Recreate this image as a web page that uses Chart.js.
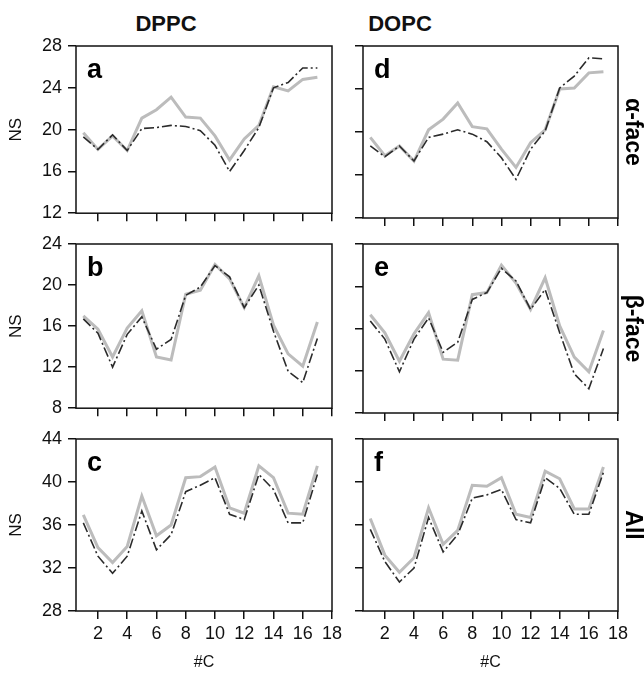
<!DOCTYPE html>
<html><head><meta charset="utf-8">
<script src="https://cdn.jsdelivr.net/npm/chart.js@4.4.1/dist/chart.umd.min.js"></script>
<style>
html,body{margin:0;padding:0;background:#fff;}
#wrap{position:relative;width:644px;height:675px;overflow:hidden;font-family:'Liberation Sans',Arial,sans-serif;background:#fff;}
canvas{position:absolute;}
.hdr{position:absolute;font-weight:bold;font-size:22px;transform:translate(-50%,-50%);color:#111;white-space:nowrap;}
</style></head><body>
<div id="wrap">
<div class="hdr" style="left:166px;top:24px">DPPC</div>
<div class="hdr" style="left:400px;top:24px">DOPC</div>
</div>
<script>
// ---- data ----
const carbons = [1,2,3,4,5,6,7,8,9,10,11,12,13,14,15,16,17];
const xTicks = [2,4,6,8,10,12,14,16,18];
const yTicksAlpha = [12,16,20,24,28];
const yTicksBeta = [8,12,16,20,24];
const yTicksAll = [28,32,36,40,44];
const rowLabels = ['α-face','β-face','All'];
const colLabels = ['DPPC','DOPC'];
const panelLetters = ['a','b','c','d','e','f'];

const dppcAlphaGray = [19.7,18.1,19.4,18.0,21.1,21.9,23.1,21.2,21.1,19.4,17.1,19.1,20.4,24.1,23.7,24.8,25.0];
const dppcAlphaDark = [19.3,18.1,19.5,18.0,20.1,20.2,20.4,20.3,19.9,18.5,16.0,18.0,20.2,24.0,24.5,25.9,25.9];
const dppcBetaGray  = [17.0,15.7,13.0,15.8,17.5,13.0,12.7,19.1,19.5,22.0,20.6,17.8,20.9,16.1,13.3,12.1,16.4];
const dppcBetaDark  = [16.7,15.3,12.0,15.2,16.9,13.75,14.7,19.0,19.8,21.9,20.8,17.8,20.0,15.5,11.6,10.5,14.8];
const dppcAllGray   = [36.95,33.9,32.5,34.0,38.7,35.0,36.0,40.4,40.5,41.4,37.6,37.1,41.5,40.4,37.1,37.0,41.5];
const dppcAllDark   = [36.2,33.1,31.5,33.1,37.3,33.7,35.1,39.1,39.7,40.4,37.0,36.5,40.7,39.3,36.2,36.2,40.7];

const dopcAlphaGray = [19.5,17.8,18.7,17.3,20.2,21.2,22.7,20.5,20.3,18.4,16.7,19.0,20.2,24.0,24.1,25.5,25.6];
const dopcAlphaDark = [18.7,17.7,18.7,17.3,19.5,19.8,20.2,19.8,19.1,17.6,15.6,18.4,20.1,24.1,25.2,26.9,26.8];
const dopcBetaGray  = [17.3,15.6,12.9,15.5,17.5,13.1,13.0,19.2,19.4,22.0,20.3,17.8,20.8,16.25,13.3,11.9,15.8];
const dopcBetaDark  = [16.7,15.0,11.9,15.0,17.0,13.75,14.7,18.75,19.4,21.7,20.5,17.8,19.7,15.6,11.7,10.3,14.1];
const dopcAllGray   = [36.6,33.2,31.6,32.95,37.6,34.2,35.5,39.7,39.6,40.4,37.0,36.7,41.0,40.3,37.5,37.5,41.4];
const dopcAllDark   = [35.6,32.6,30.7,32.0,36.7,33.5,35.1,38.5,38.8,39.3,36.5,36.2,40.4,39.4,37.0,37.0,40.9];

// ---- layout ----
const FONT = "'Liberation Sans', Arial, sans-serif";
Chart.defaults.font.family = FONT;
Chart.defaults.color = '#111';
const rowsGeo = [{top:46,bottom:218,xh:12},{top:244,bottom:413,xh:12},{top:439,bottom:611,xh:61}];
const colsGeo = [{left:0,width:350,yw:76,padR:18},{left:340,width:304,yw:23,padR:0}];

const framePlugin = {
  id:'frame',
  afterDraw(chart, args, opts){
    const {ctx, chartArea:a} = chart;
    ctx.save();
    ctx.strokeStyle = '#111'; ctx.lineWidth = 1.5;
    ctx.strokeRect(a.left, a.top, a.right-a.left, a.bottom-a.top);
    ctx.font = 'bold 27px ' + FONT; ctx.fillStyle = '#000'; ctx.textBaseline='alphabetic';
    ctx.fillText(opts.letter, a.left+11, a.top+32);
    ctx.restore();
  }
};

const panels = [
  {col:0,row:0,gray:dppcAlphaGray,dark:dppcAlphaDark,yt:yTicksAlpha},
  {col:0,row:1,gray:dppcBetaGray,dark:dppcBetaDark,yt:yTicksBeta},
  {col:0,row:2,gray:dppcAllGray,dark:dppcAllDark,yt:yTicksAll},
  {col:1,row:0,gray:dopcAlphaGray,dark:dopcAlphaDark,yt:yTicksAlpha},
  {col:1,row:1,gray:dopcBetaGray,dark:dopcBetaDark,yt:yTicksBeta},
  {col:1,row:2,gray:dopcAllGray,dark:dopcAllDark,yt:yTicksAll},
];

const wrap = document.getElementById('wrap');
panels.forEach((p, i) => {
  const r = rowsGeo[p.row], c = colsGeo[p.col];
  const padTop = 20;
  const h = padTop + (r.bottom - r.top) + r.xh;
  const cv = document.createElement('canvas');
  cv.width = c.width; cv.height = h;
  cv.style.left = c.left + 'px'; cv.style.top = (r.top - padTop) + 'px';
  cv.style.width = c.width + 'px'; cv.style.height = h + 'px';
  wrap.appendChild(cv);
  const bottomRow = p.row === 2;
  const leftCol = p.col === 0;
  const tickGrid = {display:true, drawOnChartArea:false, drawTicks:true, tickLength:8, color:'#111', lineWidth:1.5};
  const scales = {
    x: {
      type:'linear', min:0.5, max:18,
      afterBuildTicks: s => { s.ticks = xTicks.map(v => ({value:v})); },
      afterFit: s => { s.height = r.xh; },
      grid: tickGrid, border:{display:false},
      ticks:{display:bottomRow, font:{size:18}, padding:4, maxRotation:0, autoSkip:false},
      title:{display:bottomRow, text:'#C', font:{size:16}, padding:{top:0,bottom:0}, color:'#111'}
    },
    y: {
      type:'linear', min:p.yt[0], max:p.yt[p.yt.length-1],
      afterBuildTicks: s => { s.ticks = p.yt.map(v => ({value:v})); },
      afterFit: s => { s.width = c.yw; },
      grid: tickGrid, border:{display:false},
      ticks:{display:leftCol, font:{size:18}, padding:6},
      title:{display:leftCol, text:'NS', font:{size:17}, padding:{top:6,bottom:0}, color:'#111'}
    }
  };
  if (!leftCol) {
    scales.y2 = {
      type:'linear', position:'right', min:0, max:1,
      afterFit: s => { s.width = 26; },
      grid:{display:false}, border:{display:false},
      ticks:{display:false},
      title:{display:true, text:rowLabels[p.row], font:{size:23, weight:'bold', lineHeight:1}, padding:{top:0,bottom:0}, color:'#000'}
    };
  }
  new Chart(cv, {
    type:'line',
    data:{
      datasets:[
        {label:'dark', data:carbons.map((x,k)=>({x, y:p.dark[k]})), borderColor:'#2b2b2b', borderWidth:1.6, borderDash:[10,3,2,3], pointRadius:0, tension:0, fill:false},
        {label:'gray', data:carbons.map((x,k)=>({x, y:p.gray[k]})), borderColor:'#bcbcbc', borderWidth:3, pointRadius:0, tension:0, fill:false}
      ]
    },
    options:{
      responsive:false, animation:false, devicePixelRatio:1,
      layout:{padding:{top:padTop, left:0, right:c.padR, bottom:0}},
      plugins:{legend:{display:false}, tooltip:{enabled:false}, title:{display:false}, frame:{letter:panelLetters[i]}},
      scales
    },
    plugins:[framePlugin]
  });
});
</script>
</body></html>
